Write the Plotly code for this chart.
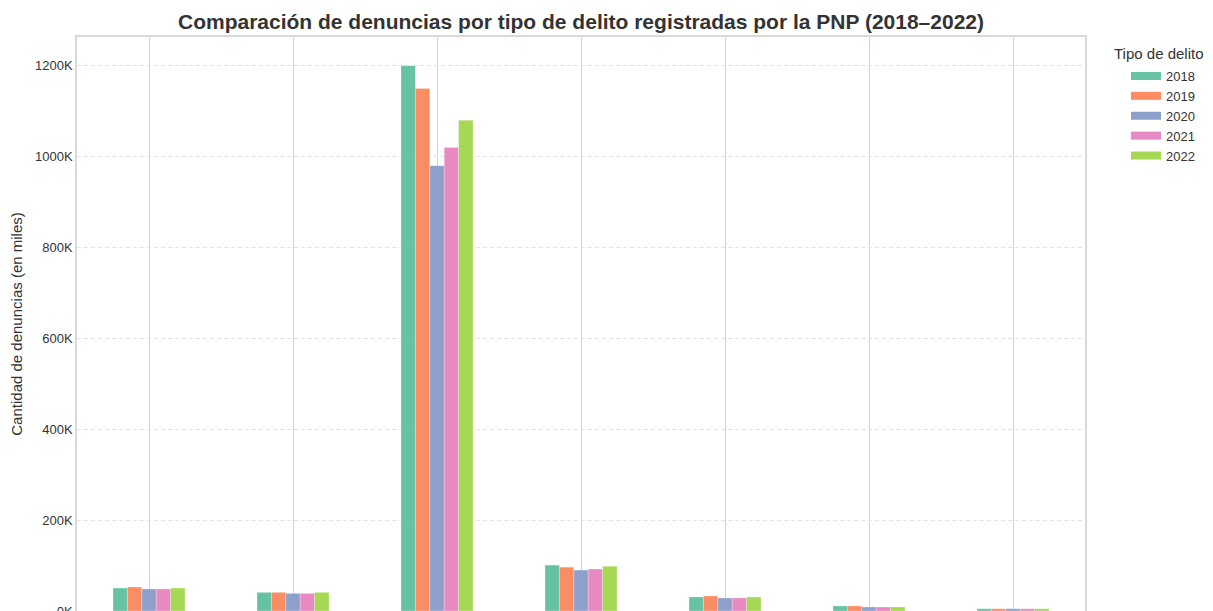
import plotly.graph_objects as go

categories = [
    "Contra la vida, el cuerpo y la salud",
    "Contra la libertad",
    "Contra el patrimonio",
    "Contra la seguridad pública",
    "Contra la familia",
    "Contra la administración pública",
    "Contra la fe pública",
]
years = ["2018", "2019", "2020", "2021", "2022"]
values_2018 = [50.5, 41, 1200, 101, 30.8, 11, 5]
values_2019 = [52.7, 41, 1150, 96.5, 33, 11, 5]
values_2020 = [48.4, 38.8, 980, 90, 28.6, 8.8, 5]
values_2021 = [48.4, 38.8, 1020, 92.3, 28.6, 8.8, 5]
values_2022 = [50.5, 41, 1080, 98.5, 30.8, 8.8, 5]
series = [values_2018, values_2019, values_2020, values_2021, values_2022]
colors = ["#66c2a5", "#fc8d62", "#8da0cb", "#e78ac3", "#a6d854"]
y_ticks = [0, 200, 400, 600, 800, 1000, 1200]
y_ticktext = ["0K", "200K", "400K", "600K", "800K", "1000K", "1200K"]

fig = go.Figure()
for yr, vals, col in zip(years, series, colors):
    fig.add_trace(go.Bar(
        name=yr, x=categories, y=vals, legendgroup=yr, showlegend=False,
        marker=dict(color=col, line=dict(color="rgba(255,255,255,0.5)", width=0.5)),
    ))
# legend entries drawn as wide swatches
for yr, col in zip(years, colors):
    fig.add_trace(go.Scatter(
        name=yr, x=[None], y=[None], mode="lines", legendgroup=yr,
        line=dict(color=col, width=8), showlegend=True,
    ))

font_family = "Liberation Sans, Arial, sans-serif"
W, H = 1205, 700
P_TOP, P_BOT, P_LEFT, P_RIGHT = 29, 603, 69, 1077
PH = P_BOT - P_TOP
PW = P_RIGHT - P_LEFT
fig.update_layout(
    width=W, height=H,
    margin=dict(l=P_LEFT, r=W - P_RIGHT, t=P_TOP, b=H - P_BOT, autoexpand=False),
    barmode="group", bargap=0.5, bargroupgap=0,
    paper_bgcolor="white", plot_bgcolor="white",
    font=dict(family=font_family, color="#333333", size=13),
    title=dict(
        text="<b>Comparación de denuncias por tipo de delito registradas por la PNP (2018–2022)</b>",
        x=0.5, xref="paper", xanchor="center",
        y=1 - 14 / H, yref="container", yanchor="middle",
        font=dict(size=21, color="#333333", family=font_family),
    ),
    legend=dict(
        font=dict(size=13, color="#333333"),
        x=(1118 - P_RIGHT) / PW + 1, y=1 - (53 - P_TOP) / PH,
        xanchor="left", yanchor="top",
        tracegroupgap=0, itemwidth=30,
    ),
    annotations=[dict(
        text="Tipo de delito", xref="paper", yref="paper",
        x=(1104 - P_LEFT) / PW, y=1 - (46 - P_TOP) / PH,
        xanchor="left", yanchor="middle", showarrow=False,
        font=dict(size=15, color="#333333", family=font_family),
    )],
    showlegend=True,
)
fig.update_xaxes(
    showgrid=True, gridcolor="#d2d2d2", gridwidth=1,
    showline=True, linecolor="#d9d9d9", linewidth=1.5, mirror=True,
    ticks="", automargin=False, tickfont=dict(size=13),
)
fig.update_yaxes(
    title=dict(text="Cantidad de denuncias (en miles)", font=dict(size=15, color="#333333")),
    tickvals=y_ticks, ticktext=y_ticktext,
    showgrid=True, gridcolor="#e3e3e3", gridwidth=1, griddash="4px,3px",
    showline=True, linecolor="#d9d9d9", linewidth=1.5, mirror=True,
    zeroline=False, ticks="", automargin=False,
    tickfont=dict(size=13),
)

fig.write_html("out.html")
